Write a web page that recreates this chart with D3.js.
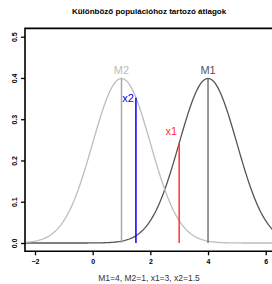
<!DOCTYPE html>
<html>
<head>
<meta charset="utf-8">
<script src="https://cdn.jsdelivr.net/npm/d3@7"></script>
<style>
  body { margin: 0; background: #fff; }
  text { font-family: "Liberation Sans", Arial, sans-serif; }
</style>
</head>
<body>
<svg width="272" height="284"></svg>
<script>
var svg = d3.select("svg"),
    width = +svg.attr("width"),
    height = +svg.attr("height");

// population means and sample values
var means = [4, 1];            // M1, M2
var meanLabels = ["M1", "M2"];
var samples = [3, 1.5];        // x1, x2
var sampleLabels = ["x1", "x2"];
var sd = 1;

var xTicks = [-2, 0, 2, 4, 6];
var yTicks = [0, 0.1, 0.2, 0.3, 0.4, 0.5];

var curveCol = ["#555555", "#bdbdbd"],
    meanLineCol = ["#777777", "#aaaaaa"],
    labelCol = ["#555555", "#bbbbbb"],
    sampleCol = ["#ff3333", "#0000ff"];

var plot = {left: 25, top: 28.4, right: 273, bottom: 251.3};

var x = d3.scaleLinear().domain([-2, 6]).range([35, 265.7]);
var y = d3.scaleLinear().domain([0, 0.5]).range([243, 36.7]);

function dnorm(v, m) {
  return Math.exp(-0.5 * Math.pow((v - m) / sd, 2)) / (sd * Math.sqrt(2 * Math.PI));
}

svg.append("clipPath").attr("id", "clip")
  .append("rect")
  .attr("x", plot.left).attr("y", plot.top)
  .attr("width", plot.right - plot.left).attr("height", plot.bottom - plot.top);

svg.append("text")
  .attr("x", (plot.left + plot.right) / 2)
  .attr("y", 14)
  .attr("text-anchor", "middle")
  .style("font-size", "8px")
  .style("font-weight", "bold")
  .text("Különböző populációhoz tartozó átlagok");

var g = svg.append("g").attr("clip-path", "url(#clip)");

var grid = d3.range(-3, 8.001, 0.05);
var line = d3.line()
  .x(function(d) { return x(d[0]); })
  .y(function(d) { return y(d[1]); });

means.forEach(function(m, i) {
  g.append("path")
    .datum(grid.map(function(v) { return [v, dnorm(v, m)]; }))
    .attr("d", line)
    .attr("fill", "none")
    .attr("stroke", curveCol[i])
    .attr("stroke-width", 1.3);
});

means.forEach(function(m, i) {
  g.append("line")
    .attr("x1", x(m)).attr("x2", x(m))
    .attr("y1", y(0)).attr("y2", y(dnorm(m, m)))
    .attr("stroke", meanLineCol[i])
    .attr("stroke-width", 1.5);
  svg.append("text")
    .attr("x", x(m))
    .attr("y", y(dnorm(m, m)) - 4.5)
    .attr("text-anchor", "middle")
    .style("font-size", "11px")
    .attr("fill", labelCol[i])
    .text(meanLabels[i]);
});

samples.forEach(function(s, i) {
  var top = dnorm(s, means[i]);
  g.append("line")
    .attr("x1", x(s)).attr("x2", x(s))
    .attr("y1", y(0)).attr("y2", y(top))
    .attr("stroke", sampleCol[i])
    .attr("stroke-width", 1.5);
});

svg.append("text")
  .attr("x", x(samples[0]) - 2).attr("y", y(dnorm(samples[0], means[0])) - 8)
  .attr("text-anchor", "end")
  .style("font-size", "11px")
  .attr("fill", sampleCol[0])
  .text(sampleLabels[0]);

svg.append("text")
  .attr("x", x(samples[1]) - 2).attr("y", y(dnorm(samples[1], means[1])) + 4)
  .attr("text-anchor", "end")
  .style("font-size", "11px")
  .attr("fill", sampleCol[1])
  .text(sampleLabels[1]);

// box (right side falls outside the picture)
svg.append("path")
  .attr("d", "M" + plot.right + "," + plot.top + "H" + plot.left + "V" + plot.bottom + "H" + plot.right)
  .attr("fill", "none")
  .attr("stroke", "#000")
  .attr("stroke-width", 1.6);

var xAxis = svg.append("g")
  .attr("transform", "translate(0," + plot.bottom + ")")
  .call(d3.axisBottom(x).tickValues(xTicks).tickSize(4).tickPadding(4)
    .tickFormat(function(d) { return d < 0 ? "\u2212" + (-d) : d; }));
xAxis.select(".domain").remove();
xAxis.selectAll("line").attr("stroke-width", 1.3);
xAxis.selectAll("text")
  .style("font-family", "'Liberation Sans', Arial, sans-serif")
  .style("font-size", "7px")
  .style("font-weight", "bold");

var yAxis = svg.append("g")
  .attr("transform", "translate(" + plot.left + ",0)")
  .call(d3.axisLeft(y).tickValues(yTicks).tickSize(4).tickPadding(4).tickFormat(d3.format(".1f")));
yAxis.select(".domain").remove();
yAxis.selectAll("line").attr("stroke-width", 1.3);
yAxis.selectAll("text")
  .style("font-family", "'Liberation Sans', Arial, sans-serif")
  .style("font-size", "7px")
  .style("font-weight", "bold")
  .attr("text-anchor", "middle")
  .attr("dy", null)
  .attr("x", null)
  .attr("y", null)
  .attr("transform", "translate(-10.5,0) rotate(-90)");
yAxis.selectAll("text").attr("y", 2.5);

svg.append("text")
  .attr("x", (plot.left + plot.right) / 2)
  .attr("y", 281)
  .attr("text-anchor", "middle")
  .style("font-size", "8.5px")
  .attr("fill", "#333")
  .text("M1=4, M2=1, x1=3, x2=1.5");
</script>
</body>
</html>
